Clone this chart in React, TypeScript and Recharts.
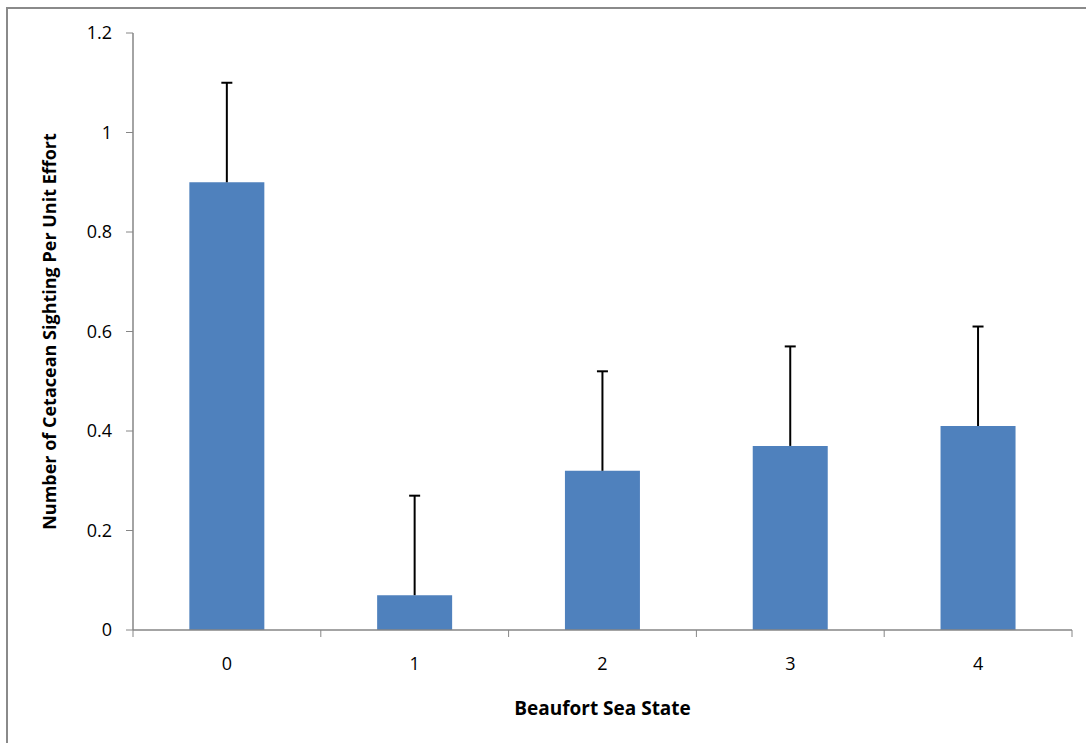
import React from 'react';
import { BarChart, Bar, XAxis, YAxis } from 'recharts';

const categories = ['0', '1', '2', '3', '4'];
const sightings = [0.9, 0.07, 0.32, 0.37, 0.41];
const errorsUp = [0.2, 0.2, 0.2, 0.2, 0.2];
const yTicks = [0, 0.2, 0.4, 0.6, 0.8, 1, 1.2];

const data = categories.map((c, i) => ({ state: c, value: sightings[i], err: errorsUp[i] }));

const AXIS_COLOR = '#868686';
const FONT = 'Open Sans, sans-serif';
const X_TICK_SIZE = 7;
const X_TICK_MARGIN = 20;

const ErrorShape = (props: any) => {
  const { x, y, width, height } = props;
  if (height == null || width == null) return null;
  const cx = x + width / 2;
  return (
    <g>
      <line x1={cx} y1={y + height} x2={cx} y2={y} stroke="#000" strokeWidth={2} />
      <line x1={cx - 5.5} y1={y} x2={cx + 5.5} y2={y} stroke="#000" strokeWidth={2} />
    </g>
  );
};

const XTick = (props: any) => {
  const { x, y, payload, index, visibleTicksCount } = props;
  const off = payload && typeof payload.offset === 'number' ? payload.offset : 0;
  const axisY = y - X_TICK_SIZE - X_TICK_MARGIN;
  const isLast = index === visibleTicksCount - 1;
  return (
    <g>
      <line x1={x - off} y1={axisY} x2={x - off} y2={axisY + X_TICK_SIZE} stroke={AXIS_COLOR} strokeWidth={1} />
      {isLast ? (
        <line x1={x + off} y1={axisY} x2={x + off} y2={axisY + X_TICK_SIZE} stroke={AXIS_COLOR} strokeWidth={1} />
      ) : null}
      <text x={x} y={y} dy="0.71em" textAnchor="middle" fill="#000" fontFamily={FONT} fontSize={18}>
        {payload.value}
      </text>
    </g>
  );
};

export default function App() {
  return (
    <div style={{ position: 'absolute', left: 0, top: 0, width: 1086, height: 743, background: '#fff', overflow: 'hidden' }}>
      <div
        style={{
          position: 'absolute',
          left: 6,
          top: 7,
          width: 1100,
          height: 760,
          borderTop: '2px solid #8a8a8a',
          borderLeft: '2px solid #8a8a8a',
        }}
      />
      <div style={{ position: 'absolute', left: 0, top: 0 }}>
        <BarChart
          width={1086}
          height={743}
          data={data}
          margin={{ top: 33, right: 14, bottom: 0, left: 0 }}
          barCategoryGap="30%"
        >
          <XAxis
            dataKey="state"
            height={113}
            tickLine={false}
            tickSize={X_TICK_SIZE}
            tickMargin={X_TICK_MARGIN}
            axisLine={{ stroke: AXIS_COLOR, strokeWidth: 1.5 }}
            tick={<XTick />}
            interval={0}
            label={{
              value: 'Beaufort Sea State',
              position: 'insideBottom',
              offset: 28,
              style: { fontFamily: FONT, fontWeight: 700, fontSize: 19, fill: '#000' },
            }}
          />
          <YAxis
            width={133}
            domain={[0, 1.2]}
            ticks={yTicks}
            interval={0}
            tickSize={7}
            tickMargin={14}
            axisLine={{ stroke: AXIS_COLOR, strokeWidth: 1.5 }}
            tickLine={{ stroke: AXIS_COLOR }}
            tick={{ fill: '#000', fontFamily: FONT, fontSize: 18 }}
            label={{
              value: 'Number of Cetacean Sighting Per Unit Effort',
              angle: -90,
              position: 'insideLeft',
              offset: 50,
              style: { textAnchor: 'middle', fontFamily: FONT, fontWeight: 700, fontSize: 18, fill: '#000' },
            }}
          />
          <Bar dataKey="value" stackId="a" fill="#4F81BD" isAnimationActive={false} />
          <Bar dataKey="err" stackId="a" fill="none" shape={<ErrorShape />} isAnimationActive={false} />
        </BarChart>
      </div>
    </div>
  );
}
